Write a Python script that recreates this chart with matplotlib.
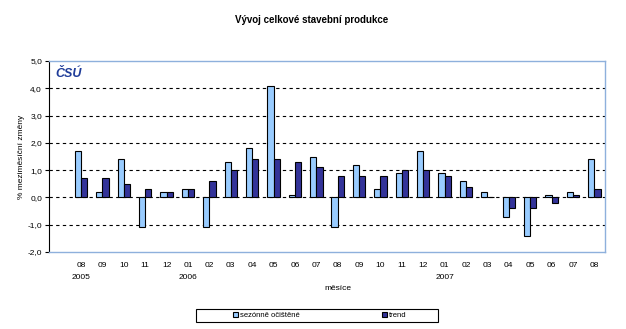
import matplotlib.pyplot as plt
import numpy as np
from matplotlib.patches import Rectangle

# data ----------------------------------------------------------------------
months = ["08", "09", "10", "11", "12", "01", "02", "03", "04", "05", "06", "07",
          "08", "09", "10", "11", "12", "01", "02", "03", "04", "05", "06", "07", "08"]
years = {0: "2005", 5: "2006", 17: "2007"}
seasonal = [1.7, 0.2, 1.4, -1.1, 0.2, 0.3, -1.1, 1.3, 1.8, 4.1, 0.1, 1.5,
            -1.1, 1.2, 0.3, 0.9, 1.7, 0.9, 0.6, 0.2, -0.7, -1.4, 0.1, 0.2, 1.4]
trend = [0.7, 0.7, 0.5, 0.3, 0.2, 0.3, 0.6, 1.0, 1.4, 1.4, 1.3, 1.1,
         0.8, 0.8, 0.8, 1.0, 1.0, 0.8, 0.4, 0.0, -0.4, -0.4, -0.2, 0.1, 0.3]
yticks = [-2.0, -1.0, 0.0, 1.0, 2.0, 3.0, 4.0, 5.0]

LIGHT = "#99ccff"
DARK = "#333399"
FRAME = "#8eb0dc"

plt.rcParams["font.family"] = ["Liberation Sans", "DejaVu Sans"]

fig = plt.figure(figsize=(6.26, 3.29), dpi=100)
ax = fig.add_axes([49 / 626, 1 - 252 / 329, 556 / 626, 191 / 329])

x = np.arange(len(months))
w = 0.29
ax.bar(x - w / 2, seasonal, w, color=LIGHT, edgecolor="black", linewidth=0.8,
       label="sezónně očištěné", zorder=3)
ax.bar(x + w / 2, trend, w, color=DARK, edgecolor="black", linewidth=0.8,
       label="trend", zorder=3)

ax.set_xlim(-1.5, len(months) - 0.5)
ax.set_ylim(-2, 5)
ax.set_yticks(yticks)
ax.set_yticklabels([f"{v:.1f}".replace(".", ",") for v in yticks], fontsize=6)
for v in yticks[1:-1]:
    ax.axhline(v, color="black", lw=0.8, ls=(0, (3, 3)), zorder=1)

ax.set_xticks(x)
ax.set_xticklabels(months, fontsize=6)
ax.tick_params(axis="x", length=0, pad=7)
ax.tick_params(axis="y", length=3, width=0.8, pad=2)

for side in ["top", "right", "bottom"]:
    ax.spines[side].set_color(FRAME)
    ax.spines[side].set_linewidth(1.0)
ax.spines["left"].set_color("black")
ax.spines["left"].set_linewidth(0.8)

for i, yr in years.items():
    ax.text(i, -2.92, yr, ha="center", va="center", fontsize=6)
ax.text(338 / 626, 1 - 289 / 329, "měsíce", transform=fig.transFigure,
        ha="center", va="center", fontsize=6)

ax.set_ylabel("% meziměsíční změny", fontsize=6, labelpad=2)
ax.text(0.012, 0.93, "ČSÚ", transform=ax.transAxes, fontsize=9, fontweight="bold",
        style="italic", color="#1f3c99", ha="left", va="center")

fig.text(312 / 626, 1 - 20 / 329, "Vývoj celkové stavební produkce",
         ha="center", va="center", fontsize=7, fontweight="bold")

# legend: frame drawn separately, entries placed inside it
fig.patches.append(Rectangle((196 / 626, 1 - 322 / 329), 242 / 626, 13 / 329,
                             transform=fig.transFigure, facecolor="white",
                             edgecolor="black", linewidth=0.8, zorder=0))
leg = fig.legend(loc="center left", bbox_to_anchor=(233 / 626, 1 - 315.5 / 329),
                 ncol=2, fontsize=5.5, frameon=False,
                 handlelength=0.6, handleheight=0.6, handletextpad=0.3,
                 columnspacing=10.8, borderpad=0, borderaxespad=0)

fig.savefig("out.png", dpi=100)
